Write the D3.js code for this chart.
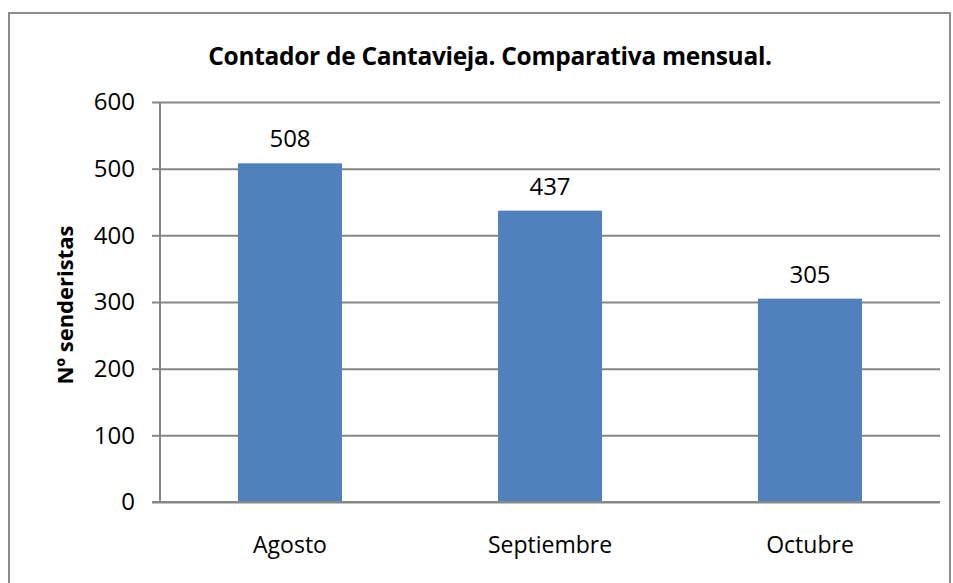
<!DOCTYPE html>
<html lang="es">
<head>
  <meta charset="UTF-8">
  <title>Contador de Cantavieja</title>
  <script src="https://d3js.org/d3.v7.min.js"></script>
  <style>
    body { margin: 0; background: #fff; }
    text { font-family: "Open Sans", "DejaVu Sans", sans-serif; fill: #000; }
  </style>
</head>
<body>
  <svg id="chart" width="953" height="583"></svg>
  <script>
    // data
    const months = ["Agosto", "Septiembre", "Octubre"];
    const hikers = [508, 437, 305];
    const yTicks = [0, 100, 200, 300, 400, 500, 600];

    const svg = d3.select('svg#chart');
    const margin = { top: 102, right: 13, bottom: 81, left: 160 };
    const width = +svg.attr('width');
    const height = +svg.attr('height');
    const chartWidth = width - margin.left - margin.right;
    const chartHeight = height - margin.top - margin.bottom;

    // outer frame of the chart
    svg.append('rect')
      .attr('x', 9).attr('y', 13)
      .attr('width', 941).attr('height', 580)
      .attr('fill', 'none')
      .attr('stroke', '#8c8c8c')
      .attr('stroke-width', 2);

    const xScale = d3.scaleBand().domain(months).range([0, chartWidth])
      .paddingInner(0.6).paddingOuter(0.3);
    const yScale = d3.scaleLinear().domain([0, 600]).range([chartHeight, 0]);

    const chartArea = svg.append('g')
      .attr('transform', 'translate(' + margin.left + ', ' + margin.top + ')');

    // gridlines
    const grid = d3.axisLeft(yScale).tickValues(yTicks)
      .tickSize(-chartWidth).tickFormat('');
    chartArea.append('g').attr('class', 'grid').call(grid)
      .call(g => g.select('.domain').remove())
      .selectAll('line').attr('stroke', '#868686').attr('stroke-width', 2);

    // bars
    chartArea.selectAll('rect.bar')
      .data(months)
      .join('rect')
      .attr('class', 'bar')
      .attr('x', d => xScale(d))
      .attr('y', (d, i) => yScale(hikers[i]))
      .attr('width', xScale.bandwidth())
      .attr('height', (d, i) => chartHeight - yScale(hikers[i]))
      .attr('fill', '#4f81bd');

    // value labels
    chartArea.selectAll('text.value')
      .data(months)
      .join('text')
      .attr('class', 'value')
      .attr('x', d => xScale(d) + xScale.bandwidth() / 2)
      .attr('y', (d, i) => yScale(hikers[i]) - 16)
      .attr('text-anchor', 'middle')
      .style('font-size', '24px')
      .text((d, i) => hikers[i]);

    // y axis
    const leftAxis = d3.axisLeft(yScale).tickValues(yTicks).tickSize(8).tickPadding(17);
    chartArea.append('g').attr('class', 'y-axis').call(leftAxis)
      .call(g => g.select('.domain').attr('stroke', '#868686').attr('stroke-width', 2)
        .attr('d', 'M0,0V' + chartHeight))
      .call(g => g.selectAll('line').attr('stroke', '#868686').attr('stroke-width', 2))
      .call(g => g.selectAll('text').style('font-size', '24px').attr('fill', '#000'));

    // x axis
    const bottomAxis = d3.axisBottom(xScale).tickSize(0).tickPadding(35);
    chartArea.append('g').attr('class', 'x-axis')
      .attr('transform', 'translate(0, ' + chartHeight + ')')
      .call(bottomAxis)
      .call(g => g.select('.domain').attr('stroke', '#868686').attr('stroke-width', 2)
        .attr('d', 'M-8,0H' + chartWidth))
      .call(g => g.selectAll('text').style('font-size', '23px').attr('fill', '#000'));

    // titles
    svg.append('text')
      .attr('x', 490).attr('y', 65)
      .attr('text-anchor', 'middle')
      .style('font-size', '24.5px').style('font-weight', 'bold')
      .style('letter-spacing', '-0.3px')
      .text('Contador de Cantavieja. Comparativa mensual.');

    svg.append('text')
      .attr('transform', 'translate(73, ' + (margin.top + chartHeight / 2 + 3) + ') rotate(-90)')
      .attr('text-anchor', 'middle')
      .style('font-size', '22px').style('font-weight', 'bold')
      .text('Nº senderistas');
  </script>
</body>
</html>
